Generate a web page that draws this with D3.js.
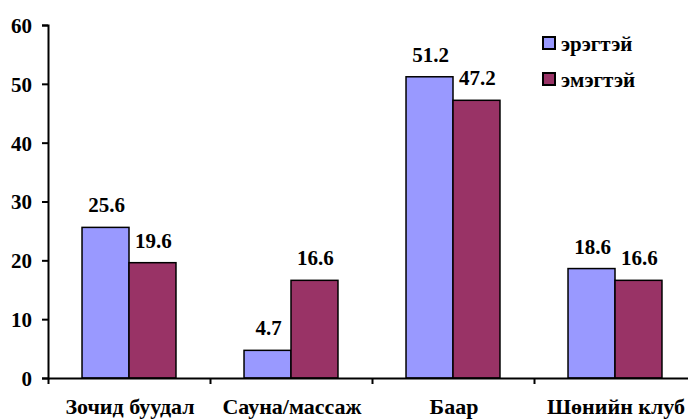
<!DOCTYPE html>
<html>
<head>
<meta charset="utf-8">
<script src="https://cdn.jsdelivr.net/npm/d3@7"></script>
</head>
<body style="margin:0">
<div class="container"></div>
<script>
const categories = ['Зочид буудал', 'Сауна/массаж', 'Баар', 'Шөнийн клуб']
const seriesNames = ['эрэгтэй', 'эмэгтэй']
const male = [25.6, 4.7, 51.2, 18.6]
const female = [19.6, 16.6, 47.2, 16.6]
const yTicks = [0, 10, 20, 30, 40, 50, 60]
const colors = ['#9999FF', '#993366']

const width = 688
const height = 419
const plotLeft = 48
const plotBottom = 378
const plotTop = 25
const font = 'Liberation Serif'

const svg = d3.select('.container')
  .append('svg')
    .attr('width', width)
    .attr('height', height)

const xScale = d3.scaleBand()
  .domain(categories)
  .range([plotLeft, plotLeft + 648])
  .paddingInner(0.42)
  .paddingOuter(0.21)

const xSub = d3.scaleBand()
  .domain(seriesNames)
  .range([0, xScale.bandwidth()])

const yScale = d3.scaleLinear()
  .domain([0, 60])
  .range([plotBottom, plotTop])

// ticks sit on the category boundaries
const xEdge = d3.scaleLinear()
  .domain([0, categories.length])
  .range([plotLeft, plotLeft + 648])

const data = categories.map((c, i) => ({ cat: c, values: [male[i], female[i]] }))

const groups = svg.selectAll('.grp')
  .data(data)
  .enter()
  .append('g')
    .attr('class', 'grp')
    .attr('transform', d => `translate(${xScale(d.cat)},0)`)

groups.selectAll('rect')
  .data(d => d.values.map((v, j) => ({ v, s: seriesNames[j], j })))
  .enter()
  .append('rect')
    .attr('x', d => xSub(d.s))
    .attr('y', d => yScale(d.v))
    .attr('width', xSub.bandwidth())
    .attr('height', d => plotBottom - yScale(d.v))
    .attr('fill', d => colors[d.j])
    .attr('stroke', '#000')
    .attr('stroke-width', 1.5)

groups.selectAll('.val')
  .data(d => d.values.map((v, j) => ({ v, s: seriesNames[j] })))
  .enter()
  .append('text')
    .attr('class', 'val')
    .attr('x', d => xSub(d.s) + xSub.bandwidth() / 2 + 1)
    .attr('y', d => yScale(d.v) - 15)
    .attr('text-anchor', 'middle')
    .attr('font-family', font)
    .attr('font-weight', 'bold')
    .attr('font-size', 21)
    .text(d => d.v)

const yAxis = d3.axisLeft(yScale)
  .tickValues(yTicks)
  .tickSize(6)
  .tickPadding(10)

svg.append('g')
    .attr('transform', `translate(${plotLeft},0)`)
    .call(yAxis)
    .call(g => g.selectAll('.tick text')
      .attr('font-family', font)
      .attr('font-weight', 'bold')
      .attr('font-size', 21)
      .attr('dy', '0.35em')
      .attr('fill', '#000'))
    .call(g => g.selectAll('line, path').attr('stroke', '#000').attr('stroke-width', 2))

const xAxis = d3.axisBottom(xEdge)
  .tickValues(d3.range(categories.length + 1))
  .tickFormat('')
  .tickSize(6)
  .tickSizeOuter(0)

svg.append('g')
    .attr('transform', `translate(0,${plotBottom})`)
    .call(xAxis)
    .call(g => g.selectAll('line, path').attr('stroke', '#000').attr('stroke-width', 2))

svg.selectAll('.cat')
  .data(categories)
  .enter()
  .append('text')
    .attr('class', 'cat')
    .attr('x', d => xScale(d) + xScale.bandwidth() / 2 + 1)
    .attr('y', 414)
    .attr('text-anchor', 'middle')
    .attr('font-family', font)
    .attr('font-weight', 'bold')
    .attr('font-size', 22)
    .text(d => d)

const legend = svg.append('g')
  .attr('transform', 'translate(543,37)')

legend.selectAll('rect')
  .data(seriesNames)
  .enter()
  .append('rect')
    .attr('x', 0)
    .attr('y', (d, i) => i * 36)
    .attr('width', 12)
    .attr('height', 12)
    .attr('fill', (d, i) => colors[i])
    .attr('stroke', '#000')
    .attr('stroke-width', 2)

legend.selectAll('text')
  .data(seriesNames)
  .enter()
  .append('text')
    .attr('x', 18)
    .attr('y', (d, i) => i * 36 + 14)
    .attr('font-family', font)
    .attr('font-weight', 'bold')
    .attr('font-size', 21)
    .text(d => d)
</script>
</body>
</html>
